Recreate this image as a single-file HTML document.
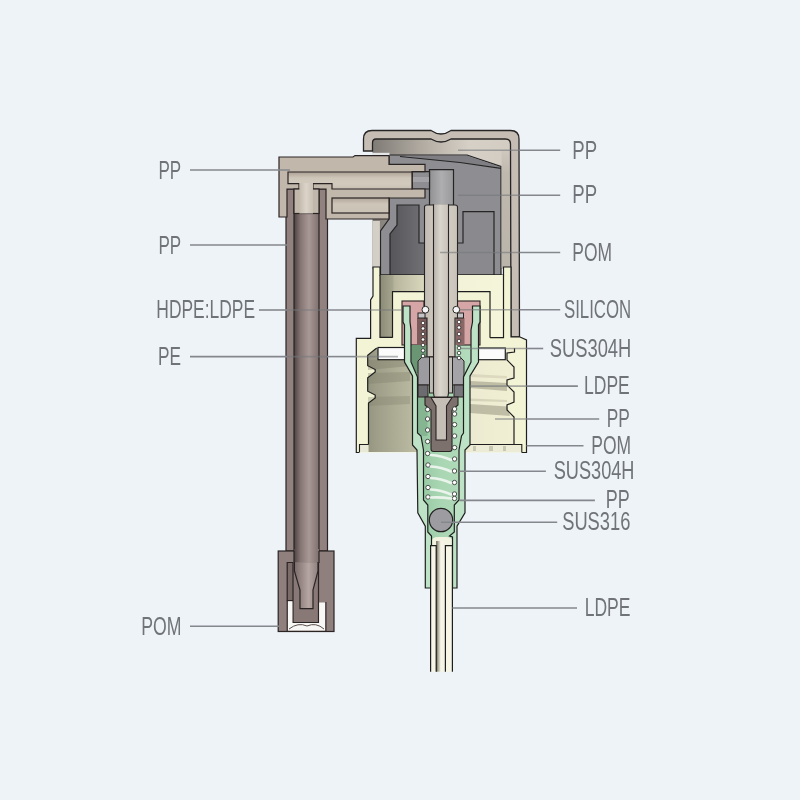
<!DOCTYPE html>
<html><head><meta charset="utf-8">
<style>
html,body{margin:0;padding:0;background:#eef3f8;}
body{width:800px;height:800px;overflow:hidden;}
svg{display:block;}
text{font-family:"Liberation Sans",sans-serif;font-size:25px;fill:#707479;}
.lbl{will-change:transform;}
</style></head>
<body>
<svg width="800" height="800" viewBox="0 0 800 800">
<defs>
<linearGradient id="gTube" x1="0" x2="1" y1="0" y2="0">
<stop offset="0" stop-color="#4b4242"/><stop offset="0.25" stop-color="#837371"/><stop offset="0.6" stop-color="#a89896"/><stop offset="1" stop-color="#7f706e"/>
</linearGradient>
<linearGradient id="gCapIn" x1="0" x2="1" y1="0" y2="0">
<stop offset="0" stop-color="#7f7b75"/><stop offset="0.35" stop-color="#b0aaa1"/><stop offset="0.7" stop-color="#d6d0c6"/><stop offset="1" stop-color="#d2ccc2"/>
</linearGradient>
<linearGradient id="gStem" x1="0" x2="1" y1="0" y2="0">
<stop offset="0" stop-color="#c2bbb2"/><stop offset="0.5" stop-color="#d8d2ca"/><stop offset="1" stop-color="#c9c2b9"/>
</linearGradient>
<linearGradient id="gRod" x1="0" x2="1" y1="0" y2="0">
<stop offset="0" stop-color="#b9b3ab"/><stop offset="0.45" stop-color="#d9d4cc"/><stop offset="1" stop-color="#c6c0b8"/>
</linearGradient>
<linearGradient id="gBore" x1="0" x2="1" y1="0" y2="0">
<stop offset="0" stop-color="#919194"/><stop offset="0.5" stop-color="#aeaeb0"/><stop offset="1" stop-color="#98989b"/>
</linearGradient>
<linearGradient id="gDark" x1="0" x2="1" y1="0" y2="0">
<stop offset="0" stop-color="#56565a"/><stop offset="1" stop-color="#727276"/>
</linearGradient>
<linearGradient id="gClTop" x1="380" x2="503" y1="0" y2="0" gradientUnits="userSpaceOnUse">
<stop offset="0" stop-color="#8b8a76"/><stop offset="0.1" stop-color="#a5a48d"/><stop offset="0.12" stop-color="#b8b79e"/><stop offset="0.36" stop-color="#d9d8bd"/><stop offset="0.55" stop-color="#f2f2d8"/><stop offset="1" stop-color="#f5f5da"/>
</linearGradient>
<linearGradient id="gThread" x1="366" x2="516" y1="0" y2="0" gradientUnits="userSpaceOnUse">
<stop offset="0" stop-color="#939380"/><stop offset="0.1" stop-color="#a2a28c"/><stop offset="0.28" stop-color="#b6b69e"/><stop offset="0.45" stop-color="#d3d2b8"/><stop offset="0.7" stop-color="#ecead0"/><stop offset="1" stop-color="#f1efd3"/>
</linearGradient>
<linearGradient id="gLow" x1="0" x2="1" y1="0" y2="0">
<stop offset="0" stop-color="#5f5d4f"/><stop offset="0.2" stop-color="#a9a894"/><stop offset="0.5" stop-color="#f6f5e8"/><stop offset="1" stop-color="#f3f2e2"/>
</linearGradient>
<linearGradient id="gCh" x1="0" x2="0" y1="172" y2="189" gradientUnits="userSpaceOnUse">
<stop offset="0" stop-color="#aca194"/><stop offset="0.35" stop-color="#cfc6ba"/><stop offset="0.7" stop-color="#d3cabe"/><stop offset="1" stop-color="#c9c0b4"/>
</linearGradient>
<linearGradient id="gCh2" x1="0" x2="0" y1="198" y2="213" gradientUnits="userSpaceOnUse">
<stop offset="0" stop-color="#b0a598"/><stop offset="0.4" stop-color="#cec5b9"/><stop offset="1" stop-color="#cbc2b6"/>
</linearGradient>
<linearGradient id="gVB" x1="0" x2="1" y1="0" y2="0">
<stop offset="0" stop-color="#c4bbaf"/><stop offset="0.5" stop-color="#dcd4c9"/><stop offset="1" stop-color="#c9c0b4"/>
</linearGradient>
<linearGradient id="gPumpIn" x1="0" x2="1" y1="0" y2="0">
<stop offset="0" stop-color="#8ec29b"/><stop offset="0.5" stop-color="#a9d6b3"/><stop offset="1" stop-color="#b4dcbd"/>
</linearGradient>
<linearGradient id="gCone" x1="0" x2="1" y1="0" y2="0">
<stop offset="0" stop-color="#7a6b69"/><stop offset="0.6" stop-color="#b5a5a3"/><stop offset="1" stop-color="#8f807e"/>
</linearGradient>
</defs>

<!-- ============ LEFT DIP TUBE (brown) ============ -->
<g stroke="#2a2424" stroke-width="1.2">
<rect x="286" y="189" width="41.5" height="362" fill="#918280"/>
<rect x="294" y="189" width="25" height="374" fill="url(#gTube)"/>
</g>
<!-- bottom fitting -->
<g stroke="#2a2424" stroke-width="1.2">
<rect x="278.2" y="551" width="55.8" height="80.5" fill="#8f807d"/>
<path d="M287.2 562.5 L294.4 562.5 L294.4 600.6 L287.2 600.6 Z" fill="#7b6c6a"/>
<rect x="294" y="549" width="25" height="14" fill="url(#gTube)" stroke="none"/>
<path d="M294 551 L294 563 M319 551 L319 563" fill="none"/>
<path d="M293 562.5 L293 622.5 L318.5 622.5 L318.5 562.5" fill="#887977"/>
<path d="M294.4 562.5 L318 562.5 L318 571 L313 590 L313 608.7 L300 608.7 L300 590 L294.4 571 Z" fill="url(#gCone)" stroke="none"/>
<path d="M294.4 562 L294.4 571 L300 590 L300 608.7 L313 608.7 L313 590 L318 571 L318 562" fill="none"/>
</g>
<path d="M287.8 601.2 L292.4 601.2 L292.4 623.1 L319.1 623.1 L319.1 602.6 L325.4 602.6 L325.4 630.4 L287.8 630.4 Z" fill="#f7f7f6"/>
<path d="M289 629 Q298 622 307 626 Q316 622 324 629" fill="none" stroke="#5a4e4c" stroke-width="1"/>
<path d="M287.2 600.6 L287.2 631 M325.9 602 L325.9 631" stroke="#2a2424" stroke-width="1.1"/>

<!-- ============ CAP interior ============ -->
<rect x="372.5" y="139" width="138.5" height="130" fill="url(#gCapIn)"/>

<!-- gray insert -->
<g stroke="#262424" stroke-width="1.2">
<path d="M389 155 L467 155 L501 166.5 L501 275 L380.5 275 L380.5 231 L389 219 Z" fill="#8e8e92"/>
<path d="M397 205 L419 205 L419 243 L425 243 L425 275 L390 275 L390 234 L397 225 Z" fill="url(#gDark)"/>
<path d="M463 211.6 L494 211.6 L494 275 L457 275 L457 243 L463 243 Z" fill="#8a8a8e"/>
<path d="M429.5 206 L429.5 169.6 L453.5 169.6 L453.5 206" fill="url(#gBore)"/>
<path d="M412 171.6 L429.5 171.6 L429.5 189 L412 189 Z" fill="#8e8e92"/>
</g>
<rect x="412.5" y="177" width="16.5" height="5" fill="#a3a3a7"/>
<path d="M405 155.7 L467 155.7 L500.4 167 L460 162.5 L430 159.5 Z" fill="#7f7f83"/>
<path d="M400 156.5 L430 159.5 L460 162.5 L501 168.4" fill="none" stroke="#262424" stroke-width="1.1"/>
<rect x="372.5" y="221" width="7.4" height="46" fill="#d3cec6"/>

<rect x="372" y="152.8" width="17.5" height="3" fill="#e4e6e7"/>
<linearGradient id="gStrip" x1="0" x2="0" y1="150" y2="268" gradientUnits="userSpaceOnUse"><stop offset="0" stop-color="#cfc8be"/><stop offset="0.2" stop-color="#bfb8af"/><stop offset="1" stop-color="#bab4ab"/></linearGradient>
<rect x="501.6" y="150" width="9.2" height="118" fill="url(#gStrip)"/>
<!-- CAP shell -->
<g stroke="#262424" stroke-width="1.3">
<path d="M363.5 151 L363.5 139 Q363.5 130.5 372 130.5 L431 130.5 Q436 134 441 134 Q446 134 451 130.5 L510.5 130.5 Q519 130.5 519 139 L519.5 337 L511 337 L510.5 144 Q510.5 139 505.5 139 L451 139 Q446 142 441 142 Q436 142 431 139 L376 139 Q372.5 139 372.5 143 L372.5 151 Z" fill="#c6beb5"/>
</g>

<!-- ============ NOZZLE ARM ============ -->
<g stroke="#2a2424" stroke-width="1.2">
<path d="M279 157 L353 157 L355 155.6 L389 155.6 L389 164.4 L425 164.4 L425 171.6 L412 171.6 L412 189 L425 189 L425 198 L389 198 L389 219 L326 219 L326 189 L287 189 L287 217 L279 217 Z" fill="#c1b7aa"/>
<path d="M288 172 L412 172 L412 189 L332 189 L332 183.6 L313 183.6 L313 213 L299 213 L299 183.6 L288 183.6 Z" fill="url(#gCh)"/>
<rect x="332" y="198" width="57" height="15" fill="url(#gCh2)"/>
<rect x="294" y="189" width="25" height="24.5" fill="#c1b7aa"/>
<rect x="299.4" y="183" width="13.6" height="30.5" fill="url(#gVB)" stroke="none"/>
</g>

<!-- ============ CLOSURE (cream) ============ -->
<g stroke="#1e1e1e" stroke-width="1.2">
<path d="M373 267 L380 267 L380 275 L503.5 275 L503.5 267 L511 267 L511 337 L520 337 L526.5 340 L526.5 452.5 L356.3 452.5 L356.3 338.3 L370.6 338.3 L370.6 300 L373 296 Z" fill="#f3f3d5" stroke="none"/>
<path d="M521.8 452.5 L526.5 452.5 L526.5 340 L520 337 L511 337 L511 267 L503.5 267 L503.5 275 L380 275 L380 267 L373 267 L373 296 L370.6 300 L370.6 338.3 L356.3 338.3 L356.3 452.5 L359.5 452.5" fill="none"/>
<path d="M380 275 L503.5 275 L503.5 337 L380 337 Z" fill="url(#gClTop)" stroke="none"/>
<path d="M392.5 337.7 L392.5 291.6 L490 291.6 L490 337.7" fill="#f3f3d5"/>
<path d="M380 275 L380 337.4 L392.5 337.4" fill="none"/>
<path d="M503.5 275 L503.5 337.6 L490 337.6" fill="none"/>
<!-- thread interior -->
<path d="M376.7 348 L367.7 355.2 L367.7 365.7 L375.2 369.5 L375.2 372 L367.7 377.7 L367.7 391.2 L375.2 395 L375.2 398 L368.5 403 L368.5 452 L514 452 L514 417 L507 410 L507 405 L514 402 L514 392 L507 385 L507 380 L514 378 L514 367 L507 360 L507 353 L514.5 352 L514.5 348 Z" fill="url(#gThread)" stroke="none"/>
</g>
<!-- thread bands -->
<g stroke="none">
<path d="M368 359.7 L410 359.7 L410 366 L368 370 Z" fill="#7f7e6a" opacity="0.4"/>
<path d="M368 373 L410 372 L410 381 L368 384 Z" fill="#7f7e6a" opacity="0.35"/>
<path d="M368 397 L410 396 L410 404 L368 406 Z" fill="#7f7e6a" opacity="0.3"/>
<path d="M470 374 L507 376 L507 378.5 L470 377 Z" fill="#8f8e78" opacity="0.2"/>
<path d="M470 381 L507 383 L507 391 L470 388 Z" fill="#8f8e78" opacity="0.5"/>
<path d="M470 398.5 L507 400 L507 402 L470 401 Z" fill="#8f8e78" opacity="0.25"/>
<path d="M470 404 L507 406.5 L510 416 L470 413 Z" fill="#8f8e78" opacity="0.5"/>
</g>
<g stroke="#1e1e1e" stroke-width="1.2">
<path d="M376.7 348 L367.7 355.2 L367.7 365.7 L375.2 369.5 L375.2 372 L367.7 377.7 L367.7 391.2 L375.2 395 L375.2 398 L368.5 403 L368.5 444.5" fill="none"/>
<path d="M514 444.5 L514 417 L507 410 L507 405 L514 402 L514 392 L507 385 L507 380 L514 378 L514 367 L507 360 L507 353 L514.5 352 L514.5 348" fill="none"/>
</g>
<g stroke="#1e1e1e" stroke-width="1.2">
<!-- gaskets -->
<rect x="378" y="347.5" width="27" height="12.2" fill="#fbfbfb"/>
<rect x="477" y="348" width="28.3" height="11.7" fill="#fbfbfb"/>
</g>

<!-- ============ PUMP INTERIOR ============ -->
<path d="M410 301 L472.5 301 L472.5 322 L471 330 L471 362 L463.5 377 L463.5 433 L461.5 436 L459 450 L459 500 L454.3 505 L454.3 532 L452.5 537 L452.5 546 L431.5 546 L431.5 536 L427.8 532 L427.8 505 L423.5 500 L423.5 450 L421 436 L417.5 433 L417.5 377 L411 362 L411 330 L410 322 Z" fill="url(#gPumpIn)"/>
<path d="M431.5 546 L431.5 542 Q431.5 537 438 537 L446 537 Q452.5 537 452.5 542 L452.5 546 Z" fill="#f3f3e2"/>
<g stroke="#2a2424" stroke-width="1.1">
<rect x="402" y="301" width="22" height="44" fill="#d6a5a5"/>
<rect x="457.5" y="301" width="22.5" height="44" fill="#d6a5a5"/>
</g>
<rect x="417" y="318" width="10" height="27" fill="#7b5a5a"/>
<rect x="455.5" y="318" width="9" height="27" fill="#8a6666"/>
<rect x="411.5" y="345" width="16" height="28" fill="#6a9674"/>
<path d="M417.5 373 L427.5 373 L427.5 436 L423 436 L417.5 433 Z" fill="#86b592"/>
<path d="M360 445 L368 445 L368 452 L360 452 Z" fill="#e9e9d8"/>
<path d="M470 445.2 L521.2 445.2 L521.2 452 L470 452 Z" fill="#ecebd6"/>
<g fill="#c9c8b4"><rect x="473" y="446" width="3" height="5"/><rect x="489" y="446" width="4" height="5"/><rect x="503" y="446" width="3" height="5"/></g>
<path d="M359.5 452 L359.5 444.5 L368.5 444.5 M470 444.5 L521.8 444.5 L521.8 452.5" fill="none" stroke="#1e1e1e" stroke-width="1.1"/>
<!-- ============ STEM ============ -->
<g stroke="#262424" stroke-width="1.1">
<path d="M424.5 207 Q424.5 205 427 205 L455 205 Q457.5 205 457.5 207 L457.5 318 L455 318 L455 357 L427 357 L427 318 L424.5 318 Z" fill="url(#gStem)"/>
</g>
<!-- piston -->
<g stroke="#2a2424" stroke-width="1">
<path d="M418 361 L422 357 L433.5 357 L433.5 385 L418 385 Z" fill="#9c9ca0"/>
<path d="M448.5 357 L460 357 L464 361 L464 385 L448.5 385 Z" fill="#a4a4a8"/>
<rect x="418" y="385" width="10" height="12" fill="#6c6c70"/>
<rect x="454" y="385" width="10" height="12" fill="#78787c"/>
<rect x="418" y="313" width="7" height="5" fill="#c4c4c6"/>
<rect x="457.5" y="313" width="6" height="5" fill="#c4c4c6"/>
<rect x="429.5" y="357" width="4.5" height="36" fill="#bebab4"/>
<rect x="448" y="357" width="4.5" height="36" fill="#c2beb8"/>
</g>
<g stroke="#262424" stroke-width="1.1">
<path d="M433.5 204.2 L433.5 393 Q433.5 400 441 400 Q448.5 400 448.5 393 L448.5 204.2" fill="url(#gRod)"/>
</g>
<!-- poppet -->
<g stroke="#2a2424" stroke-width="1.1">
<path d="M425 397 L458 397 L458 405 L452 410 L452 449 Q452 451.5 449.5 451.5 L433.5 451.5 Q431 451.5 431 449 L431 410 L425 405 Z" fill="#7d716d"/>
<path d="M431 397.5 L452 397.5 L446.5 406 L446.5 440 L436 440 L436 406 Z" fill="#c4beb7"/>
</g>
<!-- spring dots -->
<g fill="#ffffff" stroke="#2a2a2a" stroke-width="0.8">
<circle cx="423" cy="323" r="1.8"/><circle cx="423" cy="328.5" r="1.8"/><circle cx="423" cy="334" r="1.8"/><circle cx="423" cy="339.5" r="1.8"/><circle cx="423" cy="345" r="1.8"/><circle cx="423" cy="350.5" r="1.8"/><circle cx="423" cy="356" r="1.8"/>
<circle cx="459" cy="322" r="1.8"/><circle cx="459" cy="327.5" r="1.8"/><circle cx="459" cy="334" r="1.8"/><circle cx="459" cy="341" r="1.8"/><circle cx="459" cy="348" r="1.8"/><circle cx="459" cy="353" r="1.8"/><circle cx="459" cy="358" r="1.8"/>
<circle cx="427.6" cy="409.5" r="2.2"/><circle cx="427.6" cy="419" r="2.2"/><circle cx="427.6" cy="430" r="2.2"/><circle cx="427.6" cy="441.5" r="2.2"/><circle cx="427.6" cy="453.5" r="2.2"/><circle cx="428" cy="465" r="2.2"/><circle cx="428" cy="476.5" r="2.2"/><circle cx="428" cy="487.5" r="2.2"/><circle cx="428" cy="497" r="2.2"/>
<circle cx="454.6" cy="409" r="2.2"/><circle cx="454.6" cy="414" r="2.2"/><circle cx="454.6" cy="424.6" r="2.2"/><circle cx="454.6" cy="436" r="2.2"/><circle cx="454.6" cy="447.6" r="2.2"/><circle cx="454.6" cy="459" r="2.2"/><circle cx="454.5" cy="471" r="2.2"/><circle cx="454.5" cy="482.5" r="2.2"/><circle cx="454.5" cy="494" r="2.2"/><circle cx="454.5" cy="498.5" r="2.2"/>
</g>
<g stroke="#f6faf6" stroke-width="2.6" opacity="0.85" stroke-linecap="round" fill="none">
<path d="M431 455 Q441 455.5 451 460"/><path d="M431 466.5 Q441 467 451 471.5"/><path d="M431 478 Q441 478.5 451 483"/><path d="M431 489.5 Q441 490 451 494.5"/><path d="M431 497.5 Q441 497 451 498.5"/>
</g>
<circle cx="425.4" cy="309.7" r="3.4" fill="#f6f6f6" stroke="#2a2a2a" stroke-width="1"/>
<circle cx="456.3" cy="309.7" r="3.4" fill="#f6f6f6" stroke="#2a2a2a" stroke-width="1"/>

<!-- ============ PUMP BODY (green) ============ -->
<g stroke="#1e1e1e" stroke-width="1.2">
<path d="M403 306 L410 306 L410 322 L411 330 L411 362 L417.5 377 L417.5 433 L421 436 L423.5 450 L423.5 500 L427.8 505 L427.8 532 L431.5 536 L431.5 588 L452.5 588 L452.5 537 L449.5 536 L454.3 532 L454.3 505 L459 500 L459 450 L461.5 436 L463.5 433 L463.5 377 L471 362 L471 330 L472.5 322 L472.5 306 L480 306 L480 322 L478.5 325 L478.5 362 L470 376 L470 445 L465 450 L465 512.8 L457 526.2 L457 588 L425.3 588 L425.3 526.2 L417.8 512.8 L417 450 L412.5 445 L412.5 376 L404.5 362 L404.5 325 L403 322 Z" fill="#bde2c6"/>
</g>

<!-- ============ LOWER DIP TUBE ============ -->
<rect x="430.6" y="545.7" width="21.8" height="126" fill="#f6f5e6"/>
<rect x="436.2" y="541" width="9.2" height="130.7" fill="url(#gLow)"/>
<g stroke="#1e1e1e" stroke-width="1.2" fill="none">
<path d="M430.6 671.7 L430.6 545.7 L436.2 545.7 L436.2 671.7"/>
<path d="M452.4 671.7 L452.4 545.7 L445.4 545.7 L445.4 671.7"/>
</g>
<circle cx="441" cy="520" r="11.7" fill="#9d9da1" stroke="#222" stroke-width="1.2"/>

<!-- ============ LEADER LINES ============ -->
<g stroke="#84888d" stroke-width="1.6" fill="none">
<line x1="190" y1="170.0" x2="290" y2="170.0"/>
<line x1="190" y1="245.0" x2="288" y2="245.0"/>
<line x1="259" y1="310.0" x2="287" y2="310.0"/>
<line x1="190" y1="356.6" x2="287" y2="356.6"/>
<line x1="190" y1="626.2" x2="279" y2="626.2"/>
<line x1="327" y1="310.0" x2="370" y2="310.0"/>
<line x1="327" y1="356.6" x2="357" y2="356.6"/>
</g>
<g stroke="#75787c" stroke-width="1.6" fill="none" opacity="0.55">
<line x1="287" y1="310.0" x2="327" y2="310.0"/>
<line x1="287" y1="356.6" x2="327" y2="356.6"/>
<line x1="370" y1="310.0" x2="402" y2="310.0"/>
<line x1="357" y1="356.6" x2="398" y2="356.6"/>
</g>
<g stroke="#75787c" stroke-width="1.6" fill="none" opacity="0.6">
<line x1="458" y1="150.3" x2="519.5" y2="150.3"/>
<line x1="458" y1="195.2" x2="519.5" y2="195.2"/>
<line x1="440" y1="252.5" x2="519.5" y2="252.5"/>
<line x1="460" y1="309.8" x2="519.5" y2="309.8"/>
<line x1="460" y1="348.5" x2="526.5" y2="348.5"/>
<line x1="470" y1="386.1" x2="526.5" y2="386.1"/>
<line x1="495" y1="419.0" x2="526.5" y2="419.0"/>
</g>
<g stroke="#84888d" stroke-width="1.6" fill="none">
<line x1="519.5" y1="150.3" x2="560.2" y2="150.3"/>
<line x1="519.5" y1="195.2" x2="560.2" y2="195.2"/>
<line x1="519.5" y1="252.5" x2="560.2" y2="252.5"/>
<line x1="519.5" y1="309.8" x2="560.2" y2="309.8"/>
<line x1="526.5" y1="348.5" x2="543.2" y2="348.5"/>
<line x1="526.5" y1="386.1" x2="577.9" y2="386.1"/>
<line x1="526.5" y1="419.0" x2="599.2" y2="419.0"/>
<line x1="526.5" y1="445.8" x2="583.5" y2="445.8"/>
<line x1="459.5" y1="471.2" x2="545.9" y2="471.2"/>
<line x1="459.5" y1="500.4" x2="594.9" y2="500.4"/>
<line x1="441" y1="522.3" x2="557.2" y2="522.3"/>
<line x1="452.4" y1="608.0" x2="577" y2="608.0"/>
</g>

<!-- ============ LABELS ============ -->
<g class="lbl">
<text x="158.5" y="178.5" textLength="22.7" lengthAdjust="spacingAndGlyphs">PP</text>
<text x="158.5" y="253.5" textLength="22.7" lengthAdjust="spacingAndGlyphs">PP</text>
<text x="156.3" y="318.3" textLength="98.8" lengthAdjust="spacingAndGlyphs">HDPE:LDPE</text>
<text x="158" y="365" textLength="23" lengthAdjust="spacingAndGlyphs">PE</text>
<text x="141.3" y="634.6" textLength="40.2" lengthAdjust="spacingAndGlyphs">POM</text>

<text x="572.3" y="159" textLength="24.8" lengthAdjust="spacingAndGlyphs">PP</text>
<text x="572.3" y="203.3" textLength="24.8" lengthAdjust="spacingAndGlyphs">PP</text>
<text x="572.3" y="260.9" textLength="39.7" lengthAdjust="spacingAndGlyphs">POM</text>
<text x="564" y="317.8" textLength="67.2" lengthAdjust="spacingAndGlyphs">SILICON</text>
<text x="549.7" y="357.4" textLength="81.6" lengthAdjust="spacingAndGlyphs">SUS304H</text>
<text x="584" y="393.6" textLength="45.8" lengthAdjust="spacingAndGlyphs">LDPE</text>
<text x="606.7" y="426.9" textLength="23.1" lengthAdjust="spacingAndGlyphs">PP</text>
<text x="591.3" y="454.2" textLength="39.8" lengthAdjust="spacingAndGlyphs">POM</text>
<text x="553.7" y="479.4" textLength="80.8" lengthAdjust="spacingAndGlyphs">SUS304H</text>
<text x="605.7" y="507.9" textLength="23.9" lengthAdjust="spacingAndGlyphs">PP</text>
<text x="562.2" y="530.1" textLength="68.2" lengthAdjust="spacingAndGlyphs">SUS316</text>
<text x="584.7" y="615.9" textLength="45.8" lengthAdjust="spacingAndGlyphs">LDPE</text>
</g>
</svg>
</body></html>
